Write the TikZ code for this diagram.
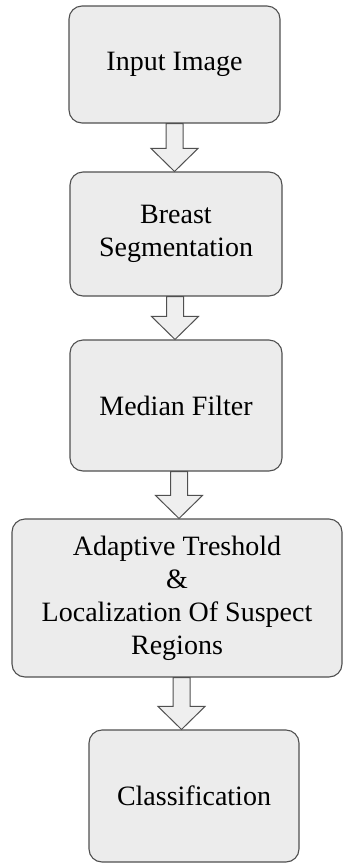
\documentclass[tikz,border=0pt]{standalone}
\usepackage{fontspec}
\setmainfont{Liberation Serif}
\usetikzlibrary{calc}
\definecolor{boxfill}{HTML}{ECECEC}
\definecolor{boxline}{HTML}{505050}
\definecolor{arrfill}{HTML}{EFEFEF}
\tikzset{
  procbox/.style={rectangle, rounded corners=13pt, draw=boxline, line width=1.1pt,
    fill=boxfill, inner sep=0pt, align=center, text=black,
    font=\fontsize{28}{33}\selectfont},
  blockarr/.style={draw=boxline, line width=1pt, fill=arrfill, line join=miter}
}
\newcommand\blockarrow[3]{%
  \draw[blockarr] let \p1=(#1.south), \p2=(#2.north) in
    (#3pt-8.5pt,\y1) -- (#3pt+8.5pt,\y1) -- (#3pt+8.5pt,\y2+23pt)
    -- (#3pt+23.5pt,\y2+23pt) -- (#3pt,\y2) -- (#3pt-23.5pt,\y2+23pt)
    -- (#3pt-8.5pt,\y2+23pt) -- cycle;}
\begin{document}
\begin{tikzpicture}[x=1pt,y=-1pt]
\useasboundingbox[fill=white] (0,0) rectangle (343,863);
\node[procbox, minimum width=211pt, minimum height=117pt] (b1) at (174.5,64.5) {Input Image};
\node[procbox, minimum width=212pt, minimum height=124pt] (b2) at (176,234) {Breast\\Segmentation};
\node[procbox, minimum width=212pt, minimum height=131pt] (b3) at (176,405.5) {Median Filter};
\node[procbox, minimum width=330pt, minimum height=158pt] (b4) at (177,598) {Adaptive Treshold\\\&\\Localization Of Suspect\\Regions};
\node[procbox, minimum width=210pt, minimum height=132pt] (b5) at (194,796) {Classification};
\blockarrow{b1}{b2}{174.5}
\blockarrow{b2}{b3}{175}
\blockarrow{b3}{b4}{179}
\blockarrow{b4}{b5}{181.5}
\end{tikzpicture}
\end{document}
